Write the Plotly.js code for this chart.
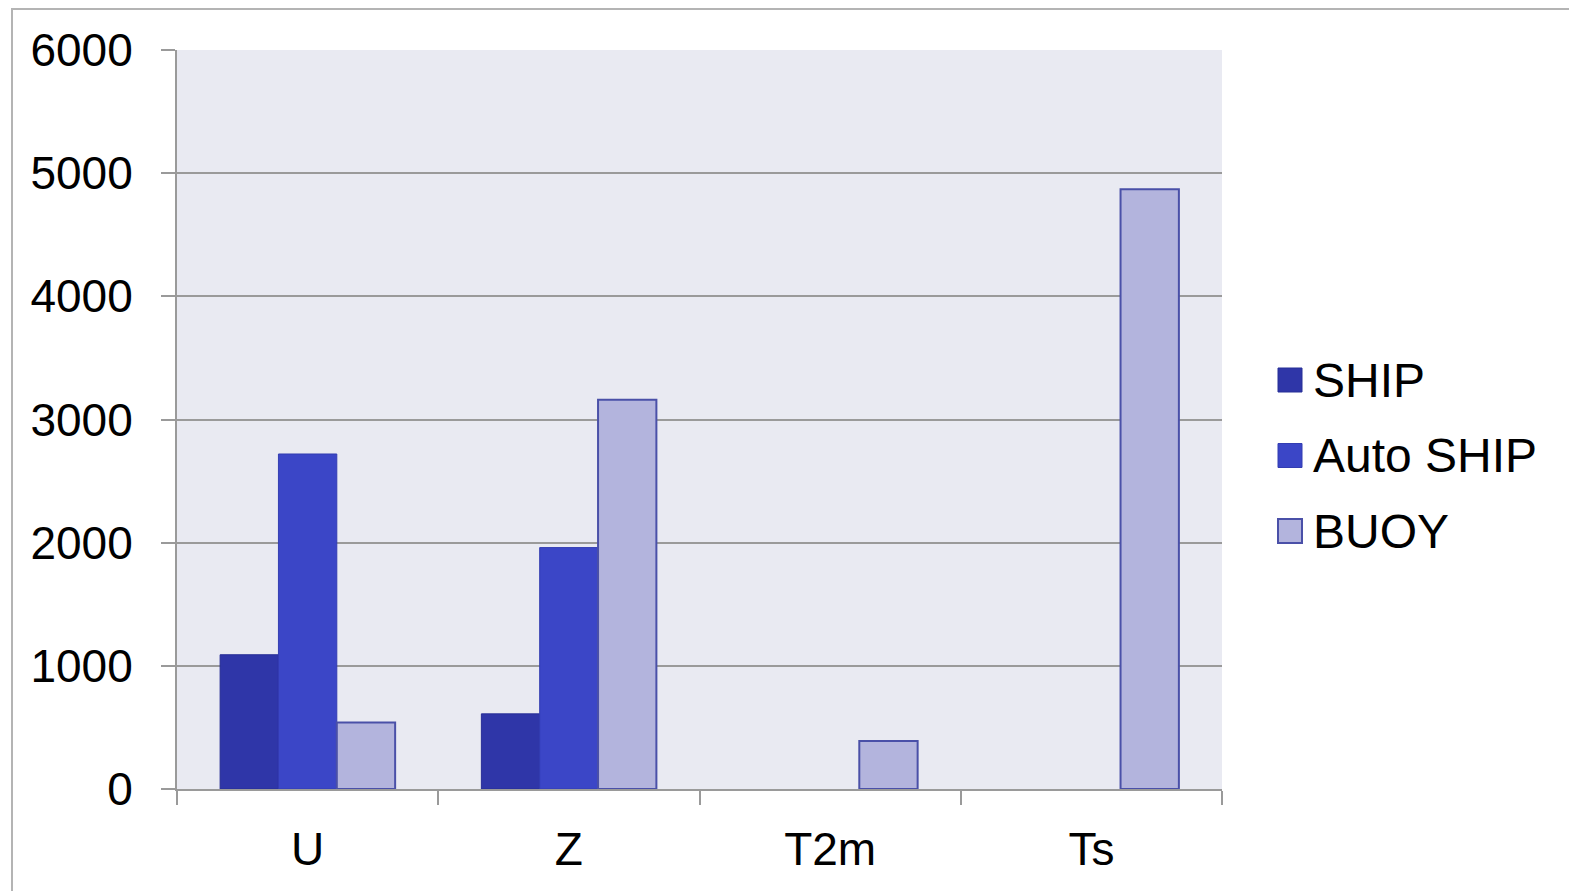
<!DOCTYPE html>
<html>
<head>
<meta charset="utf-8">
<script src="https://cdn.plot.ly/plotly-3.0.1.min.js"></script>
<style>
  html, body { margin: 0; padding: 0; background: #ffffff; overflow: hidden; }
  #wrap { position: relative; width: 1569px; height: 891px; }
  #chart { position: absolute; left: 0; top: 0; width: 1569px; height: 891px; }
  #frame { position: absolute; left: 11px; top: 8px; width: 1560px; height: 900px;
           border: 2px solid #b4b4b4; box-sizing: border-box; pointer-events: none; }
</style>
</head>
<body>
<div id="wrap">
  <div id="chart"></div>
  <div id="frame"></div>
</div>
<script>
// Observation counts per variable and platform type (null = no observations)
const categories = ['U', 'Z', 'T2m', 'Ts'];
const seriesNames = ['SHIP', 'Auto SHIP', 'BUOY'];
const shipValues = [1090, 610, null, null];
const autoShipValues = [2720, 1960, null, null];
const buoyValues = [540, 3160, 390, 4870];
const yTickValues = [0, 1000, 2000, 3000, 4000, 5000, 6000];

const fillColors = ['#2f36a8', '#3b46c7', '#b3b4dd'];
const lineColors = ['#272e96', '#333db2', '#4a50a8'];
const seriesValues = [shipValues, autoShipValues, buoyValues];

const traces = seriesNames.map((name, i) => ({
  type: 'bar',
  name: name,
  x: categories,
  y: seriesValues[i],
  marker: { color: fillColors[i], line: { color: lineColors[i], width: i === 2 ? 2 : 1 } },
  showlegend: false,
  hoverinfo: 'x+y+name'
}));

const fontFamily = '"Liberation Sans", Arial, sans-serif';

// Legend drawn as large swatches with labels on the right side
const legendX = 1278, legendY0 = 380, legendStep = 75.5, swatch = 24;
const W = 1569, H = 891;
const shapes = [];
const annotations = [];
seriesNames.forEach((name, i) => {
  const cy = legendY0 + i * legendStep;
  shapes.push({
    type: 'rect', xref: 'paper', yref: 'paper', layer: 'above',
    x0: (legendX - 177) / (1222 - 177), x1: (legendX + swatch - 177) / (1222 - 177),
    y0: (789 - (cy - 12)) / (789 - 50), y1: (789 - (cy + 12)) / (789 - 50),
    fillcolor: fillColors[i], line: { color: lineColors[i], width: i === 2 ? 2 : 1 }
  });
  annotations.push({
    xref: 'paper', yref: 'paper', showarrow: false,
    x: (legendX + swatch + 9 - 177) / (1222 - 177), xanchor: 'left',
    y: (789 - cy) / (789 - 50), yanchor: 'middle',
    text: name, font: { family: fontFamily, size: 48, color: '#000000' }
  });
});

const layout = {
  width: W,
  height: H,
  margin: { l: 177, r: 347, t: 50, b: 102, pad: 0 },
  paper_bgcolor: '#ffffff',
  plot_bgcolor: '#e9eaf2',
  barmode: 'group',
  bargap: 0.33,
  bargroupgap: 0,
  showlegend: false,
  font: { family: fontFamily, size: 46, color: '#000000' },
  xaxis: {
    type: 'category',
    showline: true, linecolor: '#9a9a9a', linewidth: 2,
    ticks: 'outside', tickson: 'boundaries', ticklen: 14, tickwidth: 2, tickcolor: '#9a9a9a',
    showgrid: false,
    tickfont: { family: fontFamily, size: 46, color: '#000000' },
    ticklabelstandoff: 19,
    fixedrange: true
  },
  yaxis: {
    range: [0, 6000],
    tickvals: yTickValues,
    ticktext: yTickValues.map(String),
    showline: true, linecolor: '#9a9a9a', linewidth: 2,
    ticks: 'outside', ticklen: 14, tickwidth: 2, tickcolor: '#9a9a9a',
    showgrid: true, gridcolor: '#9a9a9a', gridwidth: 2,
    zeroline: false,
    tickfont: { family: fontFamily, size: 46, color: '#000000' },
    ticklabelstandoff: 19,
    fixedrange: true
  },
  shapes: shapes,
  annotations: annotations
};

Plotly.newPlot('chart', traces, layout, { displayModeBar: false, staticPlot: true });
</script>
</body>
</html>
